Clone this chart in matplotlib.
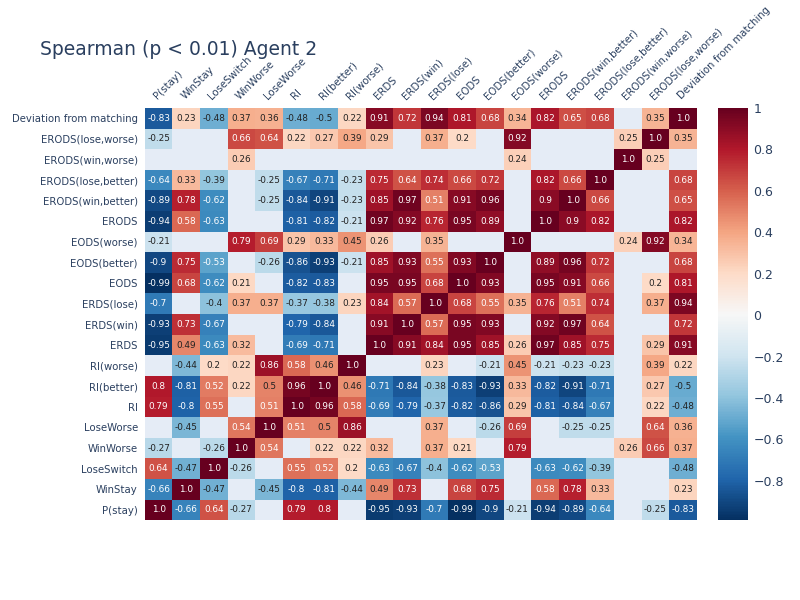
import numpy as np
import matplotlib.pyplot as plt

N = np.nan

labels = ["P(stay)", "WinStay", "LoseSwitch", "WinWorse", "LoseWorse", "RI",
          "RI(better)", "RI(worse)", "ERDS", "ERDS(win)", "ERDS(lose)", "EODS",
          "EODS(better)", "EODS(worse)", "ERODS", "ERODS(win,better)",
          "ERODS(lose,better)", "ERODS(win,worse)", "ERODS(lose,worse)",
          "Deviation from matching"]

# rows listed from P(stay) (bottom) up to Deviation from matching (top)
p_stay = [1.0, -0.66, 0.64, -0.27, N, 0.79, 0.8, N, -0.95, -0.93, -0.7, -0.99, -0.9, -0.21, -0.94, -0.89, -0.64, N, -0.25, -0.83]
win_stay = [-0.66, 1.0, -0.47, N, -0.45, -0.8, -0.81, -0.44, 0.49, 0.73, N, 0.68, 0.75, N, 0.58, 0.78, 0.33, N, N, 0.23]
lose_switch = [0.64, -0.47, 1.0, -0.26, N, 0.55, 0.52, 0.2, -0.63, -0.67, -0.4, -0.62, -0.53, N, -0.63, -0.62, -0.39, N, N, -0.48]
win_worse = [-0.27, N, -0.26, 1.0, 0.54, N, 0.22, 0.22, 0.32, N, 0.37, 0.21, N, 0.79, N, N, N, 0.26, 0.66, 0.37]
lose_worse = [N, -0.45, N, 0.54, 1.0, 0.51, 0.5, 0.86, N, N, 0.37, N, -0.26, 0.69, N, -0.25, -0.25, N, 0.64, 0.36]
ri = [0.79, -0.8, 0.55, N, 0.51, 1.0, 0.96, 0.58, -0.69, -0.79, -0.37, -0.82, -0.86, 0.29, -0.81, -0.84, -0.67, N, 0.22, -0.48]
ri_better = [0.8, -0.81, 0.52, 0.22, 0.5, 0.96, 1.0, 0.46, -0.71, -0.84, -0.38, -0.83, -0.93, 0.33, -0.82, -0.91, -0.71, N, 0.27, -0.5]
ri_worse = [N, -0.44, 0.2, 0.22, 0.86, 0.58, 0.46, 1.0, N, N, 0.23, N, -0.21, 0.45, -0.21, -0.23, -0.23, N, 0.39, 0.22]
erds = [-0.95, 0.49, -0.63, 0.32, N, -0.69, -0.71, N, 1.0, 0.91, 0.84, 0.95, 0.85, 0.26, 0.97, 0.85, 0.75, N, 0.29, 0.91]
erds_win = [-0.93, 0.73, -0.67, N, N, -0.79, -0.84, N, 0.91, 1.0, 0.57, 0.95, 0.93, N, 0.92, 0.97, 0.64, N, N, 0.72]
erds_lose = [-0.7, N, -0.4, 0.37, 0.37, -0.37, -0.38, 0.23, 0.84, 0.57, 1.0, 0.68, 0.55, 0.35, 0.76, 0.51, 0.74, N, 0.37, 0.94]
eods = [-0.99, 0.68, -0.62, 0.21, N, -0.82, -0.83, N, 0.95, 0.95, 0.68, 1.0, 0.93, N, 0.95, 0.91, 0.66, N, 0.2, 0.81]
eods_better = [-0.9, 0.75, -0.53, N, -0.26, -0.86, -0.93, -0.21, 0.85, 0.93, 0.55, 0.93, 1.0, N, 0.89, 0.96, 0.72, N, N, 0.68]
eods_worse = [-0.21, N, N, 0.79, 0.69, 0.29, 0.33, 0.45, 0.26, N, 0.35, N, N, 1.0, N, N, N, 0.24, 0.92, 0.34]
erods = [-0.94, 0.58, -0.63, N, N, -0.81, -0.82, -0.21, 0.97, 0.92, 0.76, 0.95, 0.89, N, 1.0, 0.9, 0.82, N, N, 0.82]
erods_win_better = [-0.89, 0.78, -0.62, N, -0.25, -0.84, -0.91, -0.23, 0.85, 0.97, 0.51, 0.91, 0.96, N, 0.9, 1.0, 0.66, N, N, 0.65]
erods_lose_better = [-0.64, 0.33, -0.39, N, -0.25, -0.67, -0.71, -0.23, 0.75, 0.64, 0.74, 0.66, 0.72, N, 0.82, 0.66, 1.0, N, N, 0.68]
erods_win_worse = [N, N, N, 0.26, N, N, N, N, N, N, N, N, N, 0.24, N, N, N, 1.0, 0.25, N]
erods_lose_worse = [-0.25, N, N, 0.66, 0.64, 0.22, 0.27, 0.39, 0.29, N, 0.37, 0.2, N, 0.92, N, N, N, 0.25, 1.0, 0.35]
deviation = [-0.83, 0.23, -0.48, 0.37, 0.36, -0.48, -0.5, 0.22, 0.91, 0.72, 0.94, 0.81, 0.68, 0.34, 0.82, 0.65, 0.68, N, 0.35, 1.0]

rows = [p_stay, win_stay, lose_switch, win_worse, lose_worse, ri, ri_better,
        ri_worse, erds, erds_win, erds_lose, eods, eods_better, eods_worse,
        erods, erods_win_better, erods_lose_better, erods_win_worse,
        erods_lose_worse, deviation]
data = np.array(rows, dtype=float)

text_col = "#2a3f5f"
fig = plt.figure(figsize=(8, 6), dpi=100)
ax = fig.add_axes([0.181, 0.133, 0.69, 0.687])
ax.set_facecolor("#E5ECF6")
cmap = plt.get_cmap("RdBu_r")
vmin, vmax = -0.99, 1.0
mesh = ax.pcolormesh(np.ma.masked_invalid(data), cmap=cmap, vmin=vmin, vmax=vmax)
ax.set_xlim(0, 20)
ax.set_ylim(0, 20)

# cell annotations
for i in range(20):
    for j in range(20):
        v = data[i, j]
        if np.isnan(v):
            continue
        color = "white" if abs(v) > 0.5 else "#222222"
        ax.text(j + 0.5, i + 0.5, str(v), ha="center", va="center",
                fontsize=6.4, color=color)

ax.set_xticks(np.arange(20) + 0.5)
ax.set_yticks(np.arange(20) + 0.5)
ax.xaxis.tick_top()
ax.set_xticklabels(labels, rotation=45, ha="left", rotation_mode="anchor",
                   fontsize=7.3, color=text_col)
ax.set_yticklabels(labels, fontsize=7.3, color=text_col)
ax.tick_params(length=0, pad=5)
for s in ax.spines.values():
    s.set_visible(False)

cax = fig.add_axes([0.8975, 0.133, 0.0375, 0.687])
cb = fig.colorbar(mesh, cax=cax)
cb.set_ticks([-0.8, -0.6, -0.4, -0.2, 0, 0.2, 0.4, 0.6, 0.8, 1])
cb.set_ticklabels(["−0.8", "−0.6", "−0.4", "−0.2", "0", "0.2", "0.4", "0.6", "0.8", "1"])
cb.ax.tick_params(length=0, labelsize=9, labelcolor=text_col, pad=4)
cb.outline.set_visible(False)

fig.text(0.05, 0.917, "Spearman (p < 0.01) Agent 2", fontsize=13.5, color=text_col,
         va="center")

fig.savefig("out.png", dpi=100)
